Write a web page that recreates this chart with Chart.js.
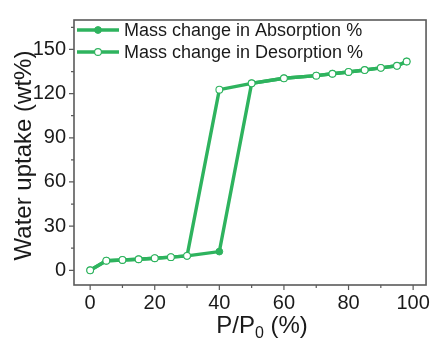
<!DOCTYPE html>
<html>
<head>
<meta charset="utf-8">
<script src="https://cdn.jsdelivr.net/npm/chart.js@4.4.1/dist/chart.umd.min.js"></script>
<style>
html,body{margin:0;padding:0;background:#fff;}
#wrap{width:436px;height:340px;}
</style>
</head>
<body>
<div id="wrap"><canvas id="c" width="436" height="340"></canvas></div>
<script>
// ---- data ----
const absX = [0, 5, 10, 15, 20, 25, 30, 40, 50, 60, 70, 75, 80, 85, 90, 95, 98];
const absY = [0, 6.5, 7, 7.5, 8.2, 8.9, 9.8, 12.7, 127, 130.4, 132.2, 133.5, 134.7, 136, 137.5, 138.9, 141.8];
const desX = [98, 95, 90, 85, 80, 75, 70, 60, 50, 40, 30, 25, 20, 15, 10, 5, 0];
const desY = [141.8, 138.9, 137.5, 136, 134.7, 133.5, 132.2, 130.4, 127, 122.7, 9.8, 8.9, 8.2, 7.5, 7, 6.5, 0];
const seriesNames = ['Mass change in Absorption %', 'Mass change in Desorption %'];
const xMajor = [0, 20, 40, 60, 80, 100];
const xMinor = [10, 30, 50, 70, 90];
const yMajor = [0, 30, 60, 90, 120, 150];
const yMinor = [15, 45, 75, 105, 135, 165];

const GREEN = 'rgb(46,179,94)';
const FONT = "'Liberation Sans', Arial, sans-serif";
const FRAME = '#5a5a5a';
const TXT = '#1a1a1a';

const toPts = (xs, ys) => xs.map((x, i) => ({x: x, y: ys[i]}));

const decor = {
  id: 'decor',
  afterDatasetsDraw(chart) {
    const ctx = chart.ctx;
    const a = chart.chartArea;
    const xs = chart.scales.x, ys = chart.scales.y;
    ctx.save();
    // frame
    ctx.strokeStyle = FRAME;
    ctx.lineWidth = 1.6;
    ctx.strokeRect(a.left, a.top, a.right - a.left, a.bottom - a.top);
    // ticks
    ctx.lineWidth = 1.2;
    ctx.beginPath();
    xMajor.forEach(v => { const p = xs.getPixelForValue(v); ctx.moveTo(p, a.bottom); ctx.lineTo(p, a.bottom + 5); });
    xMinor.forEach(v => { const p = xs.getPixelForValue(v); ctx.moveTo(p, a.bottom); ctx.lineTo(p, a.bottom + 3); });
    yMajor.forEach(v => { const p = ys.getPixelForValue(v); ctx.moveTo(a.left, p); ctx.lineTo(a.left - 5, p); });
    yMinor.forEach(v => { const p = ys.getPixelForValue(v); ctx.moveTo(a.left, p); ctx.lineTo(a.left - 3, p); });
    ctx.stroke();
    // legend
    const rows = [30, 52];
    const ds = chart.data.datasets;
    const legOrder = [1, 0];
    ctx.font = '18px ' + FONT;
    ctx.textBaseline = 'middle';
    ctx.textAlign = 'left';
    rows.forEach((ry, i) => {
      const d = ds[legOrder[i]];
      ctx.strokeStyle = d.borderColor;
      ctx.lineWidth = d.borderWidth;
      ctx.beginPath(); ctx.moveTo(77, ry); ctx.lineTo(119, ry); ctx.stroke();
      ctx.beginPath(); ctx.arc(98, ry, d.pointRadius, 0, Math.PI * 2);
      ctx.fillStyle = d.pointBackgroundColor; ctx.fill();
      ctx.lineWidth = d.pointBorderWidth; ctx.strokeStyle = d.pointBorderColor; ctx.stroke();
      ctx.fillStyle = TXT;
      ctx.fillText(d.label, 124, ry + 1);
    });
    // x title with subscript
    ctx.textBaseline = 'alphabetic';
    const p1 = 'P/P', p3 = ' (%)';
    ctx.font = '16px ' + FONT; const w2 = ctx.measureText('0').width;
    ctx.font = '24px ' + FONT;
    const w1 = ctx.measureText(p1).width, w3 = ctx.measureText(p3).width;
    const total = w1 + w2 + w3;
    let sx = 262 - total / 2;
    const by = 333;
    ctx.fillText(p1, sx, by); sx += w1;
    ctx.font = '16px ' + FONT; ctx.fillText('0', sx, by + 5); sx += w2;
    ctx.font = '24px ' + FONT; ctx.fillText(p3, sx, by);
    // y title
    ctx.translate(31, 155.5);
    ctx.rotate(-Math.PI / 2);
    ctx.textAlign = 'center';
    ctx.fillText('Water uptake (wt%)', 0, 0);
    ctx.restore();
  }
};

new Chart(document.getElementById('c'), {
  type: 'line',
  data: {
    datasets: [
      {
        label: seriesNames[1],
        data: toPts(desX, desY),
        borderColor: GREEN, borderWidth: 3.4,
        pointRadius: 3.4, pointBackgroundColor: '#fff', pointBorderColor: GREEN, pointBorderWidth: 1.1,
        order: 0
      },
      {
        label: seriesNames[0],
        data: toPts(absX, absY),
        borderColor: GREEN, borderWidth: 3.4,
        pointRadius: 3.4, pointBackgroundColor: GREEN, pointBorderColor: GREEN, pointBorderWidth: 1,
        order: 1
      }
    ]
  },
  options: {
    responsive: false,
    animation: false,
    devicePixelRatio: 1,
    layout: {padding: {top: 14, right: 4, left: 0, bottom: 0}},
    plugins: {legend: {display: false}, tooltip: {enabled: false}},
    elements: {line: {tension: 0}},
    scales: {
      x: {
        type: 'linear', min: -5, max: 104,
        grid: {display: false, drawTicks: false},
        border: {display: false},
        afterBuildTicks: s => { s.ticks = xMajor.map(v => ({value: v})); },
        afterFit: s => { s.height = 55; },
        ticks: {font: {size: 20, family: FONT}, color: TXT, padding: 6, maxRotation: 0, autoSkip: false}
      },
      y: {
        type: 'linear', min: -10, max: 170,
        grid: {display: false, drawTicks: false},
        border: {display: false},
        afterBuildTicks: s => { s.ticks = yMajor.map(v => ({value: v})); },
        afterFit: s => { s.width = 74; },
        ticks: {font: {size: 20, family: FONT}, color: TXT, padding: 8, autoSkip: false}
      }
    }
  },
  plugins: [decor]
});
</script>
</body>
</html>
